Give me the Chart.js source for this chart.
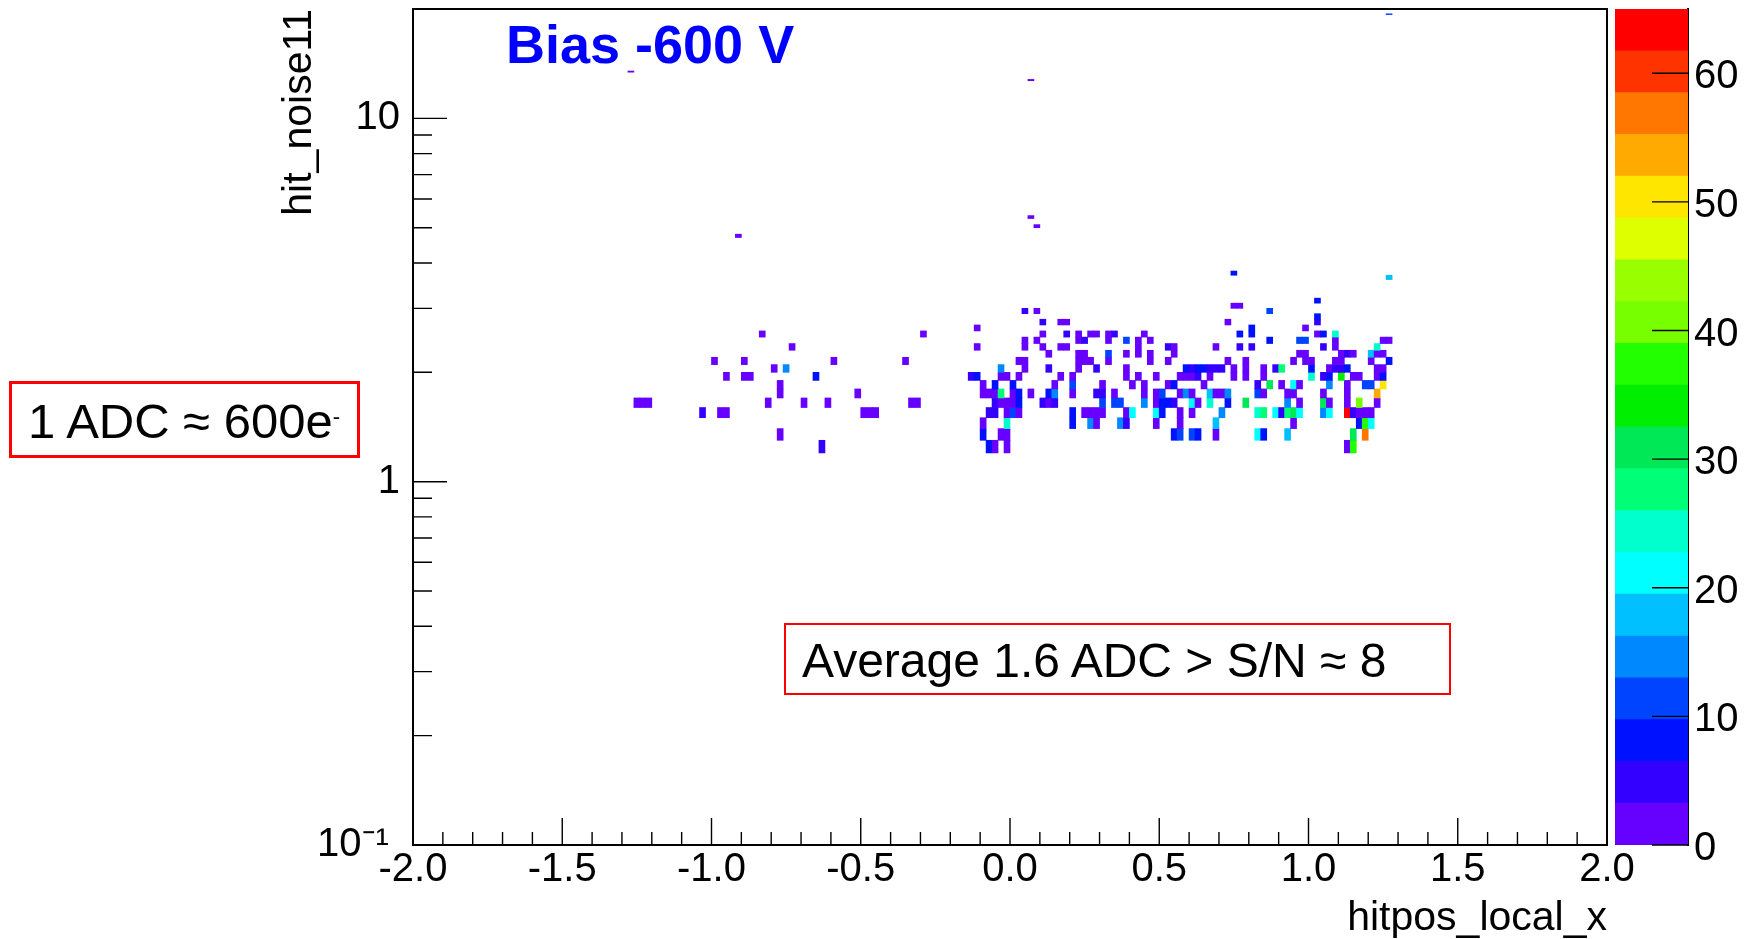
<!DOCTYPE html>
<html>
<head>
<meta charset="utf-8">
<title>hit_noise11 vs hitpos_local_x</title>
<script src="https://cdn.jsdelivr.net/npm/chart.js@4.4.1/dist/chart.umd.min.js"></script>
<style>
  html, body { margin: 0; padding: 0; background: #fff; }
  body { position: relative; width: 1750px; height: 939px; overflow: hidden;
         font-family: "Liberation Sans", Arial, sans-serif; }
  canvas { position: absolute; top: 0; }
  #plot { left: 0; }
  #zbar { left: 1610px; }
  .box { position: absolute; border: 3px solid #ff0000; box-sizing: border-box; }
  .note { position: absolute; font-size: 48px; line-height: 48px; color: #000; white-space: nowrap; }
  .note span { font-size: 22px; line-height: 0; vertical-align: 14px; }
  #bias { position: absolute; left: 506px; top: 17px; font-weight: bold; font-size: 54px;
          line-height: 54px; color: #0000ff; white-space: nowrap; }
</style>
</head>
<body>
<canvas id="plot" width="1750" height="939"></canvas>
<canvas id="zbar" width="140" height="939"></canvas>
<div id="bias">Bias -600 V</div>
<div class="box" style="left:9px;top:381px;width:351px;height:77px"></div>
<div class="note" style="left:28px;top:397px;font-size:49px;line-height:49px">1 ADC ≈ 600e<span>-</span></div>
<div class="box" style="left:784px;top:623px;width:667px;height:72px;border-width:2px"></div>
<div class="note" style="left:802px;top:637px">Average 1.6 ADC &gt; S/N ≈ 8</div>
<script>
// 2D histogram hit_noise11 vs hitpos_local_x, bins of 0.02 x 0.1
const binW = 0.02;
const binH = 0.1;

// lower edge of each hit_noise11 row that has entries
const rowY = [1.2, 1.3, 1.4, 1.5, 1.6, 1.7, 1.8, 1.9, 2.0, 2.1, 2.2, 2.3, 2.4, 2.5,
  2.6, 2.7, 2.8, 2.9, 3.0, 3.1, 3.6, 3.7, 4.7, 5.0, 5.3, 12.7, 13.4, 19.3];

// lower edge of the filled hitpos_local_x bins in each row
const rowX = [
  [-0.64, -0.08, -0.06, -0.02, 1.12, 1.14],
  [-0.78, -0.10, -0.04, -0.02, 0.54, 0.56, 0.60, 0.62, 0.68, 0.82, 0.84, 0.92, 1.14, 1.18],
  [-0.10, -0.02, 0.20, 0.26, 0.28, 0.36, 0.38, 0.48, 0.56, 0.68, 0.94, 1.16, 1.18, 1.20],
  [-1.04, -0.98, -0.96, -0.50, -0.48, -0.46, -0.08, -0.06, -0.02, 0.00, 0.02, 0.20, 0.24, 0.26, 0.28, 0.30,
   0.38, 0.40, 0.48, 0.50, 0.56, 0.60, 0.70, 0.82, 0.84, 0.88, 0.90, 0.92, 0.94, 0.96, 1.04, 1.06, 1.12,
   1.14, 1.16, 1.18, 1.20],
  [-1.26, -1.24, -1.22, -0.82, -0.70, -0.62, -0.34, -0.32, -0.06, -0.04, -0.02, 0.00, 0.02, 0.10, 0.12,
   0.14, 0.30, 0.34, 0.36, 0.44, 0.48, 0.50, 0.52, 0.54, 0.60, 0.62, 0.66, 0.72, 0.78, 0.92, 0.96, 1.04,
   1.06, 1.12, 1.16, 1.22],
  [-0.78, -0.52, -0.10, -0.08, -0.06, -0.04, 0.00, 0.02, 0.06, 0.12, 0.14, 0.20, 0.28, 0.30, 0.34, 0.44,
   0.48, 0.50, 0.56, 0.58, 0.60, 0.66, 0.68, 0.70, 0.72, 0.82, 0.84, 0.92, 0.94, 1.04, 1.12, 1.22],
  [-0.78, -0.10, -0.06, 0.00, 0.14, 0.20, 0.30, 0.40, 0.44, 0.52, 0.54, 0.64, 0.82, 0.86, 0.90, 0.94,
   0.96, 1.06, 1.12, 1.18, 1.20, 1.24],
  [-0.96, -0.90, -0.88, -0.66, -0.14, -0.12, -0.04, -0.02, 0.02, 0.16, 0.20, 0.38, 0.42, 0.48, 0.56, 0.58,
   0.60, 0.62, 0.66, 0.74, 0.78, 0.84, 1.00, 1.04, 1.06, 1.10, 1.14, 1.16, 1.22, 1.24],
  [-0.80, -0.76, -0.04, 0.04, 0.12, 0.22, 0.28, 0.38, 0.58, 0.60, 0.62, 0.64, 0.66, 0.68, 0.70, 0.74,
   0.78, 0.84, 0.88, 0.90, 1.00, 1.06, 1.08, 1.10, 1.12, 1.22, 1.24],
  [-1.00, -0.90, -0.60, -0.36, 0.02, 0.04, 0.22, 0.24, 0.26, 0.32, 0.46, 0.52, 0.72, 0.78, 0.94, 0.98,
   1.00, 1.08, 1.10, 1.20, 1.26],
  [0.12, 0.22, 0.24, 0.32, 0.38, 0.42, 0.46, 0.54, 0.96, 0.98, 1.10, 1.12, 1.14, 1.20, 1.22, 1.24],
  [-0.74, -0.12, 0.04, 0.10, 0.16, 0.18, 0.42, 0.52, 0.54, 0.68, 0.76, 0.80, 1.04, 1.08, 1.22],
  [0.04, 0.08, 0.22, 0.24, 0.32, 0.38, 0.42, 0.46, 0.86, 0.96, 0.98, 1.08, 1.24, 1.26],
  [-0.84, -0.30, 0.10, 0.18, 0.22, 0.26, 0.28, 0.32, 0.34, 0.44, 0.76, 0.80, 1.02, 1.04, 1.08],
  [-0.12, 0.80, 0.98],
  [0.10, 0.16, 0.18, 0.72, 1.02],
  [1.02],
  [0.04, 0.08, 0.86],
  [0.74, 0.76],
  [1.02],
  [1.26],
  [0.74],
  [-0.92],
  [0.08],
  [0.06],
  [0.06],
  [-1.28],
  [1.26]
];

// entries in each of those bins, same order
const rowN = [
  [5, 8, 2, 2, 2, 38],
  [2, 8, 2, 2, 8, 11, 11, 8, 2, 21, 8, 18, 32, 58],
  [2, 24, 8, 13, 2, 15, 5, 2, 2, 17, 2, 8, 38, 21],
  [5, 2, 2, 2, 2, 2, 5, 5, 2, 11, 2, 8, 2, 2, 2, 2, 2, 21, 21, 8, 2, 2, 15, 24, 27, 21, 5, 29, 31, 21,
   15, 21, 65, 5, 2, 2, 2],
  [2, 2, 2, 2, 2, 2, 2, 2, 5, 2, 2, 2, 8, 5, 2, 5, 11, 10, 10, 15, 2, 9, 9, 5, 21, 2, 25, 8, 30, 15, 2,
   32, 2, 2, 42, 2],
  [2, 2, 2, 2, 2, 28, 2, 8, 2, 8, 15, 2, 5, 5, 2, 2, 2, 10, 2, 15, 2, 17, 2, 2, 15, 11, 2, 2, 2, 2, 2, 55],
  [2, 2, 8, 8, 2, 11, 2, 2, 2, 2, 8, 2, 5, 30, 2, 21, 2, 14, 2, 10, 10, 50],
  [2, 2, 2, 8, 5, 8, 2, 2, 2, 2, 2, 2, 2, 2, 2, 2, 2, 5, 2, 2, 2, 2, 24, 5, 8, 34, 2, 2, 2, 8],
  [2, 15, 15, 2, 5, 2, 5, 2, 8, 5, 8, 8, 5, 5, 5, 2, 2, 2, 5, 28, 8, 2, 5, 5, 8, 2, 2],
  [2, 2, 2, 2, 2, 2, 2, 2, 2, 2, 2, 2, 2, 2, 2, 2, 2, 2, 2, 2, 8],
  [2, 2, 2, 11, 2, 2, 2, 2, 2, 2, 2, 5, 2, 17, 2, 2],
  [2, 2, 2, 2, 2, 2, 2, 5, 2, 2, 5, 5, 5, 2, 24],
  [2, 2, 2, 5, 2, 11, 2, 2, 8, 10, 10, 2, 2, 2],
  [2, 2, 2, 5, 2, 2, 2, 2, 5, 2, 8, 8, 2, 8, 25],
  [2, 8, 2],
  [5, 2, 2, 2, 5],
  [9],
  [5, 2, 10],
  [2, 2],
  [8],
  [18],
  [8],
  [2],
  [2],
  [2],
  [2],
  [2],
  [12]
];

// colour scale: 20 contour levels from 0 to 65
const zLevels = [0, 3.25, 6.5, 9.75, 13, 16.25, 19.5, 22.75, 26, 29.25, 32.5,
  35.75, 39, 42.25, 45.5, 48.75, 52, 55.25, 58.5, 61.75, 65];
const zColors = ['#6600ff', '#3300ff', '#0011ff', '#0044ff', '#0088ff', '#00c0ff', '#00ffff',
  '#00ffcc', '#00ff77', '#00e855', '#00ee00', '#22ff00', '#77ff00', '#99ff00', '#ddff00',
  '#ffe600', '#ffaa00', '#ff7700', '#ff3300', '#ff0000'];
const zTicks = [0, 10, 20, 30, 40, 50, 60];
const zLabels = ['0', '10', '20', '30', '40', '50', '60'];

const xTicks = [-2, -1.5, -1, -0.5, 0, 0.5, 1, 1.5, 2];
const xLabels = ['-2.0', '-1.5', '-1.0', '-0.5', '0.0', '0.5', '1.0', '1.5', '2.0'];
const yTicks = [0.1, 1, 10];
const yLabels = ['10⁻¹ ', '1', '10'];
const yMinorTicks = [0.2, 0.3, 0.4, 0.5, 0.6, 0.7, 0.8, 0.9, 2, 3, 4, 5, 6, 7, 8, 9];

// five divisions between labelled x ticks
const xMinorTicks = [];
for (let i = 0; i < xTicks.length - 1; i++) {
  const step = (xTicks[i + 1] - xTicks[i]) / 5;
  for (let k = 1; k < 5; k++) xMinorTicks.push(xTicks[i] + k * step);
}

Chart.defaults.font.family = "'Liberation Sans', Arial, sans-serif";
Chart.defaults.color = '#000';

const colourOf = (n) => {
  let i = 0;
  while (i < zColors.length - 1 && n >= zLevels[i + 1]) i++;
  return zColors[i];
};

const cells = [];
rowY.forEach((y0, r) => {
  rowX[r].forEach((x0, c) => {
    cells.push({ x: x0 + binW / 2, y: [y0, y0 + binH], n: rowN[r][c] });
  });
});

// keep chart.js from moving the plot frame for overhanging labels
const noPad = (s) => {
  s.paddingTop = 0;
  s.paddingBottom = 0;
  s.paddingLeft = 0;
  s.paddingRight = 0;
};

// ROOT style frame with ticks pointing into the pad
const frameTicks = {
  id: 'frameTicks',
  afterDatasetsDraw(chart) {
    const { ctx, chartArea: a, scales: { x, y } } = chart;
    ctx.save();
    ctx.strokeStyle = '#000';
    ctx.lineWidth = 1.4;
    ctx.beginPath();
    xTicks.forEach((v) => {
      const p = x.getPixelForValue(v);
      ctx.moveTo(p, a.bottom);
      ctx.lineTo(p, a.bottom - 27);
    });
    xMinorTicks.forEach((v) => {
      const p = x.getPixelForValue(v);
      ctx.moveTo(p, a.bottom);
      ctx.lineTo(p, a.bottom - 13);
    });
    yTicks.forEach((v) => {
      const p = y.getPixelForValue(v);
      ctx.moveTo(a.left, p);
      ctx.lineTo(a.left + 34, p);
    });
    yMinorTicks.forEach((v) => {
      const p = y.getPixelForValue(v);
      ctx.moveTo(a.left, p);
      ctx.lineTo(a.left + 19, p);
    });
    ctx.stroke();
    ctx.lineWidth = 2;
    ctx.strokeRect(a.left, a.top, a.right - a.left, a.bottom - a.top);
    ctx.restore();
  },
};

new Chart(document.getElementById('plot'), {
  type: 'bar',
  data: {
    datasets: [{
      data: cells,
      backgroundColor: cells.map((c) => colourOf(c.n)),
      borderWidth: 0,
      barThickness: 6,
      grouped: false,
    }],
  },
  options: {
    responsive: false,
    animation: false,
    events: [],
    layout: { padding: { left: 0, top: 9, right: 143, bottom: 0 } },
    plugins: { legend: { display: false }, tooltip: { enabled: false } },
    scales: {
      x: {
        type: 'linear',
        min: -2,
        max: 2,
        offset: false,
        grid: { display: false, drawTicks: false },
        border: { display: false },
        afterBuildTicks: (s) => { s.ticks = xTicks.map((value) => ({ value })); },
        afterFit: (s) => { s.height = 94; noPad(s); },
        ticks: { callback: (v, i) => xLabels[i], font: { size: 40 }, padding: 1, maxRotation: 0, autoSkip: false },
        title: {
          display: true,
          text: 'hitpos_local_x',
          align: 'end',
          font: { size: 41, lineHeight: 1 },
          padding: { top: 0, bottom: 0 },
        },
      },
      y: {
        type: 'logarithmic',
        min: 0.1,
        max: 20,
        grid: { display: false, drawTicks: false },
        border: { display: false },
        afterBuildTicks: (s) => { s.ticks = yTicks.map((value) => ({ value })); },
        afterFit: (s) => { s.width = 413; noPad(s); },
        ticks: {
          callback: (v, i) => yLabels[i],
          font: { size: 40 },
          padding: 13,
          autoSkip: false,
          labelOffset: (c) => (c.index === 0 ? 5 : 0),
        },
        title: {
          display: true,
          text: 'hit_noise11',
          align: 'end',
          font: { size: 41, lineHeight: 1 },
          padding: { top: 279, bottom: 0 },
        },
      },
    },
  },
  plugins: [frameTicks],
});

// palette bar with its ticks drawn inwards from the axis line
const zbarTicks = {
  id: 'zbarTicks',
  afterDatasetsDraw(chart) {
    const { ctx, chartArea: a, scales: { y } } = chart;
    ctx.save();
    ctx.strokeStyle = '#000';
    ctx.lineWidth = 1.4;
    ctx.beginPath();
    zTicks.forEach((v) => {
      const p = y.getPixelForValue(v);
      ctx.moveTo(a.right - 36, p);
      ctx.lineTo(a.right, p);
    });
    ctx.stroke();
    ctx.restore();
  },
};

new Chart(document.getElementById('zbar'), {
  type: 'bar',
  data: {
    labels: [''],
    datasets: zColors.map((c, i) => ({
      data: [[zLevels[i], zLevels[i + 1]]],
      backgroundColor: c,
      borderWidth: 0,
      barPercentage: 1,
      categoryPercentage: 1,
      grouped: false,
    })),
  },
  options: {
    responsive: false,
    animation: false,
    events: [],
    layout: { padding: { left: 5, top: 9, right: 0, bottom: 94 } },
    plugins: { legend: { display: false }, tooltip: { enabled: false } },
    scales: {
      x: { display: false },
      y: {
        position: 'right',
        min: 0,
        max: zLevels[zLevels.length - 1],
        grid: { display: false, drawTicks: false },
        border: { display: true, color: '#000', width: 2 },
        afterBuildTicks: (s) => { s.ticks = zTicks.map((value) => ({ value })); },
        afterFit: (s) => { s.width = 62; noPad(s); },
        ticks: { callback: (v, i) => zLabels[i], font: { size: 40 }, padding: 6, labelOffset: 4, autoSkip: false },
      },
    },
  },
  plugins: [zbarTicks],
});
</script>
</body>
</html>
